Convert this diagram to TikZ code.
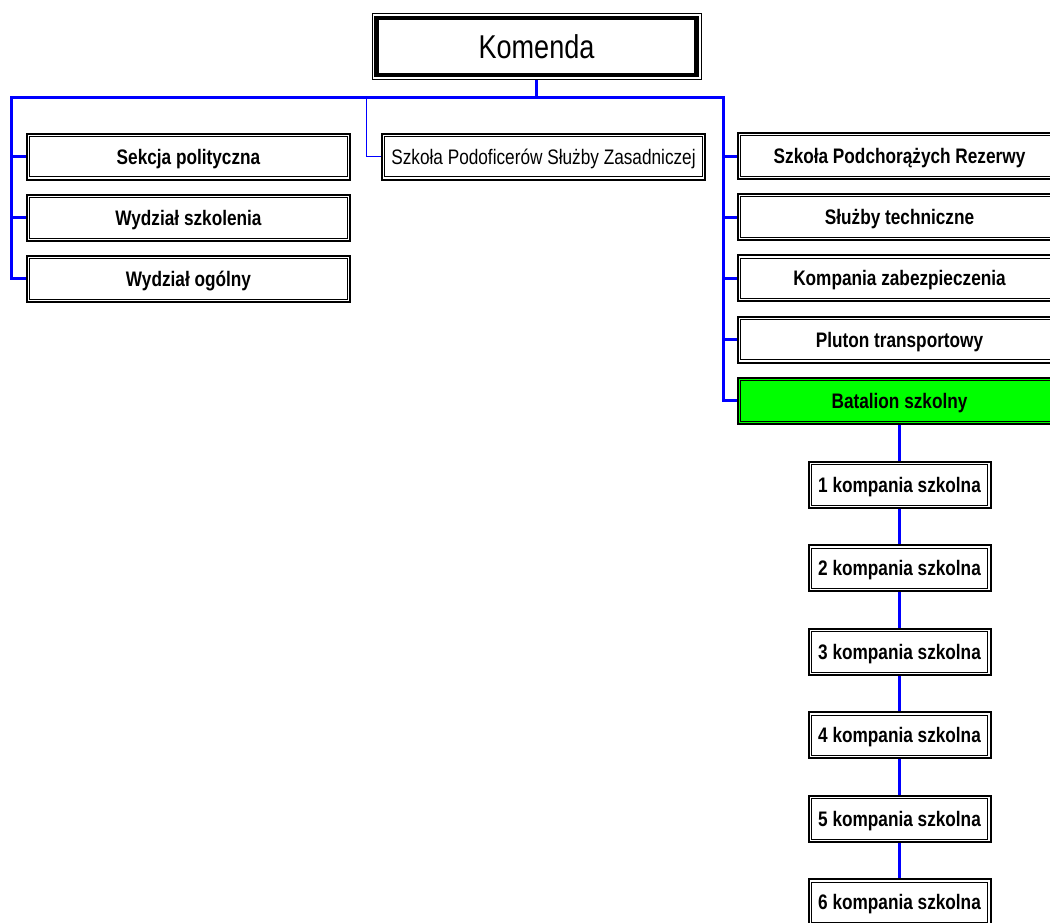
\documentclass[tikz,border=0pt]{standalone}
\usepackage{fontspec}
\setmainfont{Liberation Sans}[FakeStretch=0.82]
\usepackage{xcolor}

\begin{document}
\begin{tikzpicture}[x=1pt, y=-1pt, node distance=61.2pt,
		head/.style={draw, line width=1pt, minimum width=329pt, minimum height=66pt, inner sep=0pt,
			text height=23.6pt, text depth=0pt, font=\fontsize{33}{38}\selectfont,
			path picture={\draw[line width=4.5pt] ([shift={(4.6pt,-4.6pt)}]path picture bounding box.north west) rectangle ([shift={(-4.6pt,4.6pt)}]path picture bounding box.south east);}},
		unit/.style={draw, line width=2pt, minimum width=323pt, minimum height=46pt, inner sep=0pt,
			text height=15pt, text depth=0pt, font=\fontsize{21}{25}\selectfont\bfseries,
			path picture={\draw[line width=0.9pt] ([shift={(2.7pt,-2.7pt)}]path picture bounding box.north west) rectangle ([shift={(-2.7pt,2.7pt)}]path picture bounding box.south east);}},
		company/.style={unit, minimum width=182pt},
		bus/.style={blue, line width=3pt},
		thinbus/.style={blue, line width=1pt}]
			\useasboundingbox (0,0) rectangle (1050,922);
			\clip (0,0) rectangle (1050,922);

			\node[head] (komenda) at (536.5,46.5) {Komenda};

			\node[unit] (sekcja) at (188.5,156.5) {Sekcja polityczna};
			\node[unit] (wszkol) [below of = sekcja] {Wydział szkolenia};
			\node[unit] (wogol) [below of = wszkol] {Wydział ogólny};

			\node[unit, font=\fontsize{21}{25}\selectfont] (podof) at (543.5,156.5) {Szkoła Podoficerów Służby Zasadniczej};

			\node[unit] (spr) at (899.5,156) {Szkoła Podchorążych Rezerwy};
			\node[unit] (sluzby) [below of = spr] {Służby techniczne};
			\node[unit] (kzab) [below of = sluzby] {Kompania zabezpieczenia};
			\node[unit] (pluton) [below of = kzab] {Pluton transportowy};
			\node[unit, fill=green] (batalion) [below of = pluton] {Batalion szkolny};

			\node[company] (k1) [below of = batalion, node distance=84pt] {1 kompania szkolna};
			\node[company] (k2) [below of = k1, node distance=83.5pt] {2 kompania szkolna};
			\node[company] (k3) [below of = k2, node distance=83.5pt] {3 kompania szkolna};
			\node[company] (k4) [below of = k3, node distance=83.5pt] {4 kompania szkolna};
			\node[company] (k5) [below of = k4, node distance=83.5pt] {5 kompania szkolna};
			\node[company] (k6) [below of = k5, node distance=83.5pt] {6 kompania szkolna};

			\coordinate (lbus) at (11,97);
			\coordinate (mbus) at (366,97);
			\coordinate (rbus) at (723,97);

			\draw[bus] (wogol.west) -| (lbus) -- (rbus) |- (batalion.west);
			\draw[thinbus] (mbus) |- (podof);

			\path[bus]
				(komenda) edge (komenda |- lbus)

				(lbus |- sekcja) edge (sekcja)
				(lbus |- wszkol) edge (wszkol)

				(rbus |- spr) edge (spr)
				(rbus |- sluzby) edge (sluzby)
				(rbus |- kzab) edge (kzab)
				(rbus |- pluton) edge (pluton)

				(batalion) edge (k1)
				(k1) edge (k2)
				(k2) edge (k3)
				(k3) edge (k4)
				(k4) edge (k5)
				(k5) edge (k6)
			;
		\end{tikzpicture}
\end{document}
